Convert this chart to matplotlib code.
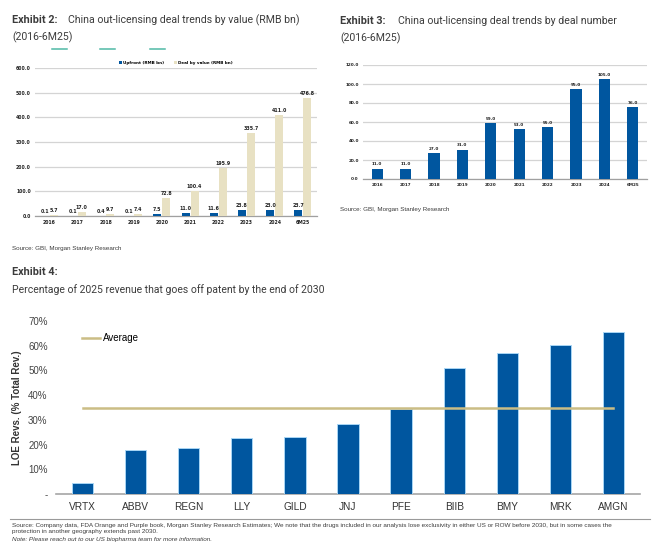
import matplotlib
matplotlib.use("Agg")
import matplotlib.pyplot as plt
from matplotlib.lines import Line2D
import numpy as np

# ---------------- data ----------------
years = ["2016", "2017", "2018", "2019", "2020", "2021", "2022", "2023", "2024", "6M25"]
upfront = [0.1, 0.1, 0.4, 0.1, 7.5, 11.0, 11.6, 23.8, 23.0, 23.7]
deal_value = [5.7, 17.0, 9.7, 7.4, 72.8, 100.4, 195.9, 335.7, 411.0, 476.8]
deal_number = [11.0, 11.0, 27.0, 31.0, 59.0, 53.0, 55.0, 95.0, 105.0, 76.0]
ex2_yticks = [0, 100, 200, 300, 400, 500, 600]
ex3_yticks = [0, 20, 40, 60, 80, 100, 120]

companies = ["VRTX", "ABBV", "REGN", "LLY", "GILD", "JNJ", "PFE", "BIIB", "BMY", "MRK", "AMGN"]
loe_pct = [4.5, 17.8, 18.6, 22.5, 23.0, 28.3, 34.4, 50.9, 57.2, 60.2, 65.7]
average_pct = 35.0
ex4_yticks = [0, 10, 20, 30, 40, 50, 60, 70]
ex4_ylabels = ["-", "10%", "20%", "30%", "40%", "50%", "60%", "70%"]

BLUE = "#00569f"
BEIGE = "#e8e1c3"
KHAKI = "#cbbd85"
GRID = "#d4d4d4"
TXT = "#3c3c3c"

W, H = 660, 550
fig = plt.figure(figsize=(6.6, 5.5), dpi=100)
fig.patch.set_facecolor("white")

def ax_at(x0, y0, x1, y1):
    return fig.add_axes([x0 / W, 1 - y1 / H, (x1 - x0) / W, (y1 - y0) / H])

def ftext(x, y, s, **kw):
    kw.setdefault("va", "center")
    kw.setdefault("ha", "left")
    fig.text(x / W, 1 - y / H, s, **kw)

TITLE_FONT = ["Roboto", "DejaVu Sans"]
SMALL_FONT = ["Liberation Sans", "DejaVu Sans"]

# ---------------- Exhibit 2 ----------------
ftext(12, 20, "Exhibit 2:", fontsize=7.8, fontweight="bold", color=TXT, family=TITLE_FONT)
ftext(68, 20, "China out-licensing deal trends by value (RMB bn)", fontsize=7.6, color=TXT, family=TITLE_FONT)
ftext(12, 37, "(2016-6M25)", fontsize=7.6, color=TXT, family=TITLE_FONT)
for xa, xb in [(52, 67), (100, 115), (150, 165)]:
    fig.add_artist(Line2D([xa / W, xb / W], [1 - 49 / H, 1 - 49 / H], color="#4fb9a6", lw=1.1))

ax2 = ax_at(35, 68, 317, 216)
x = np.arange(len(years))
bw = 0.28
b1 = ax2.bar(x - 0.16, upfront, bw, color=BLUE, zorder=3, label="Upfront (RMB bn)")
b2 = ax2.bar(x + 0.16, deal_value, bw, color=BEIGE, zorder=3, label="Deal by value (RMB bn)")
ax2.bar_label(b1, labels=[f"{v:.1f}" for v in upfront], padding=1.5, fontsize=3.4, fontweight="bold", color="#222")
ax2.bar_label(b2, labels=[f"{v:.1f}" for v in deal_value], padding=1.5, fontsize=3.4, fontweight="bold", color="#222")
ax2.set_xlim(-0.5, 9.5)
ax2.set_ylim(0, 600)
ax2.set_yticks(ex2_yticks)
ax2.set_yticklabels([f"{v:.1f}" for v in ex2_yticks], fontsize=3.3, fontweight="bold", color="#222")
ax2.set_xticks(x)
ax2.set_xticklabels(years, fontsize=3.3, fontweight="bold", color="#222")
ax2.yaxis.grid(True, color=GRID, lw=0.9, zorder=0)
ax2.tick_params(length=0, pad=3)
for s in ["top", "right", "left"]:
    ax2.spines[s].set_visible(False)
ax2.spines["bottom"].set_color("#a0a0a0")
ax2.spines["bottom"].set_linewidth(0.9)
ax2.legend(loc="lower center", bbox_to_anchor=(0.5, 1.0), ncol=2, frameon=False,
           prop={"size": 3.0, "weight": "bold"}, handlelength=0.6, handleheight=0.6,
           columnspacing=2.5, handletextpad=0.3, borderpad=0.2)
ftext(12, 249, "Source: GBI, Morgan Stanley Research", fontsize=4.5, color=TXT, family=SMALL_FONT)

# ---------------- Exhibit 3 ----------------
ftext(340, 21, "Exhibit 3:", fontsize=7.8, fontweight="bold", color=TXT, family=TITLE_FONT)
ftext(398, 21, "China out-licensing deal trends by deal number", fontsize=7.6, color=TXT, family=TITLE_FONT)
ftext(340, 38, "(2016-6M25)", fontsize=7.6, color=TXT, family=TITLE_FONT)

ax3 = ax_at(363, 65, 647, 179)
b3 = ax3.bar(x, deal_number, 0.4, color=BLUE, zorder=3)
ax3.bar_label(b3, labels=[f"{v:.1f}" for v in deal_number], padding=1.5, fontsize=3.0, fontweight="bold", color="#222")
ax3.set_xlim(-0.5, 9.5)
ax3.set_ylim(0, 120)
ax3.set_yticks(ex3_yticks)
ax3.set_yticklabels([f"{v:.1f}" for v in ex3_yticks], fontsize=3.0, fontweight="bold", color="#222")
ax3.set_xticks(x)
ax3.set_xticklabels(years, fontsize=3.0, fontweight="bold", color="#222")
ax3.yaxis.grid(True, color=GRID, lw=0.9, zorder=0)
ax3.tick_params(length=0, pad=3)
for s in ["top", "right", "left"]:
    ax3.spines[s].set_visible(False)
ax3.spines["bottom"].set_color("#a0a0a0")
ax3.spines["bottom"].set_linewidth(0.9)
ftext(340, 209, "Source: GBI, Morgan Stanley Research", fontsize=4.5, color=TXT, family=SMALL_FONT)

# ---------------- Exhibit 4 ----------------
ftext(12, 272, "Exhibit 4:", fontsize=7.8, fontweight="bold", color=TXT, family=TITLE_FONT)
ftext(12, 290, "Percentage of 2025 revenue that goes off patent by the end of 2030", fontsize=7.5, color=TXT, family=TITLE_FONT)

ax4 = ax_at(56, 321, 640, 494)
xc = np.arange(len(companies))
ax4.bar(xc, loe_pct, 0.4, color=BLUE, edgecolor="#a9d6f5", linewidth=0.7, zorder=3)
ax4.plot([xc[0], xc[-1]], [average_pct, average_pct], color=KHAKI, lw=1.8, zorder=4, label="Average")
ax4.set_xlim(-0.5, 10.5)
ax4.set_ylim(0, 70)
ax4.set_yticks(ex4_yticks)
ax4.set_yticklabels(ex4_ylabels, fontsize=7, color="#444444", family=SMALL_FONT)
ax4.set_xticks(xc)
ax4.set_xticklabels(companies, fontsize=7.3, color="#333333", family=SMALL_FONT)
ax4.tick_params(length=0)
ax4.tick_params(axis="y", pad=6)
ax4.tick_params(axis="x", pad=6)
for s in ["top", "right", "left"]:
    ax4.spines[s].set_visible(False)
ax4.spines["bottom"].set_color("#a6a6a6")
ax4.spines["bottom"].set_linewidth(1.2)
ax4.set_ylabel("LOE Revs. (% Total Rev.)", fontsize=7, fontweight="bold", color="#333333",
               family=SMALL_FONT, labelpad=4)
ax4.legend(loc="upper left", bbox_to_anchor=(0.03, 0.98), frameon=False,
           prop={"size": 7, "family": SMALL_FONT}, handlelength=1.8, handletextpad=0.3)

fig.add_artist(Line2D([10 / W, 650 / W], [1 - 519 / H, 1 - 519 / H], color="#9a9a9a", lw=0.8))
ftext(12, 525, "Source: Company data, FDA Orange and Purple book, Morgan Stanley Research Estimates; We note that the drugs included in our analysis lose exclusivity in either US or ROW before 2030, but in some cases the",
      fontsize=4.6, color=TXT, family=SMALL_FONT)
ftext(12, 532, "protection in another geography extends past 2030.", fontsize=4.6, color=TXT, family=SMALL_FONT)
ftext(12, 540, "Note: Please reach out to our US biopharma team for more information.", fontsize=4.6,
      color=TXT, style="italic", family=SMALL_FONT)

fig.savefig("out.png", dpi=100, facecolor="white")
